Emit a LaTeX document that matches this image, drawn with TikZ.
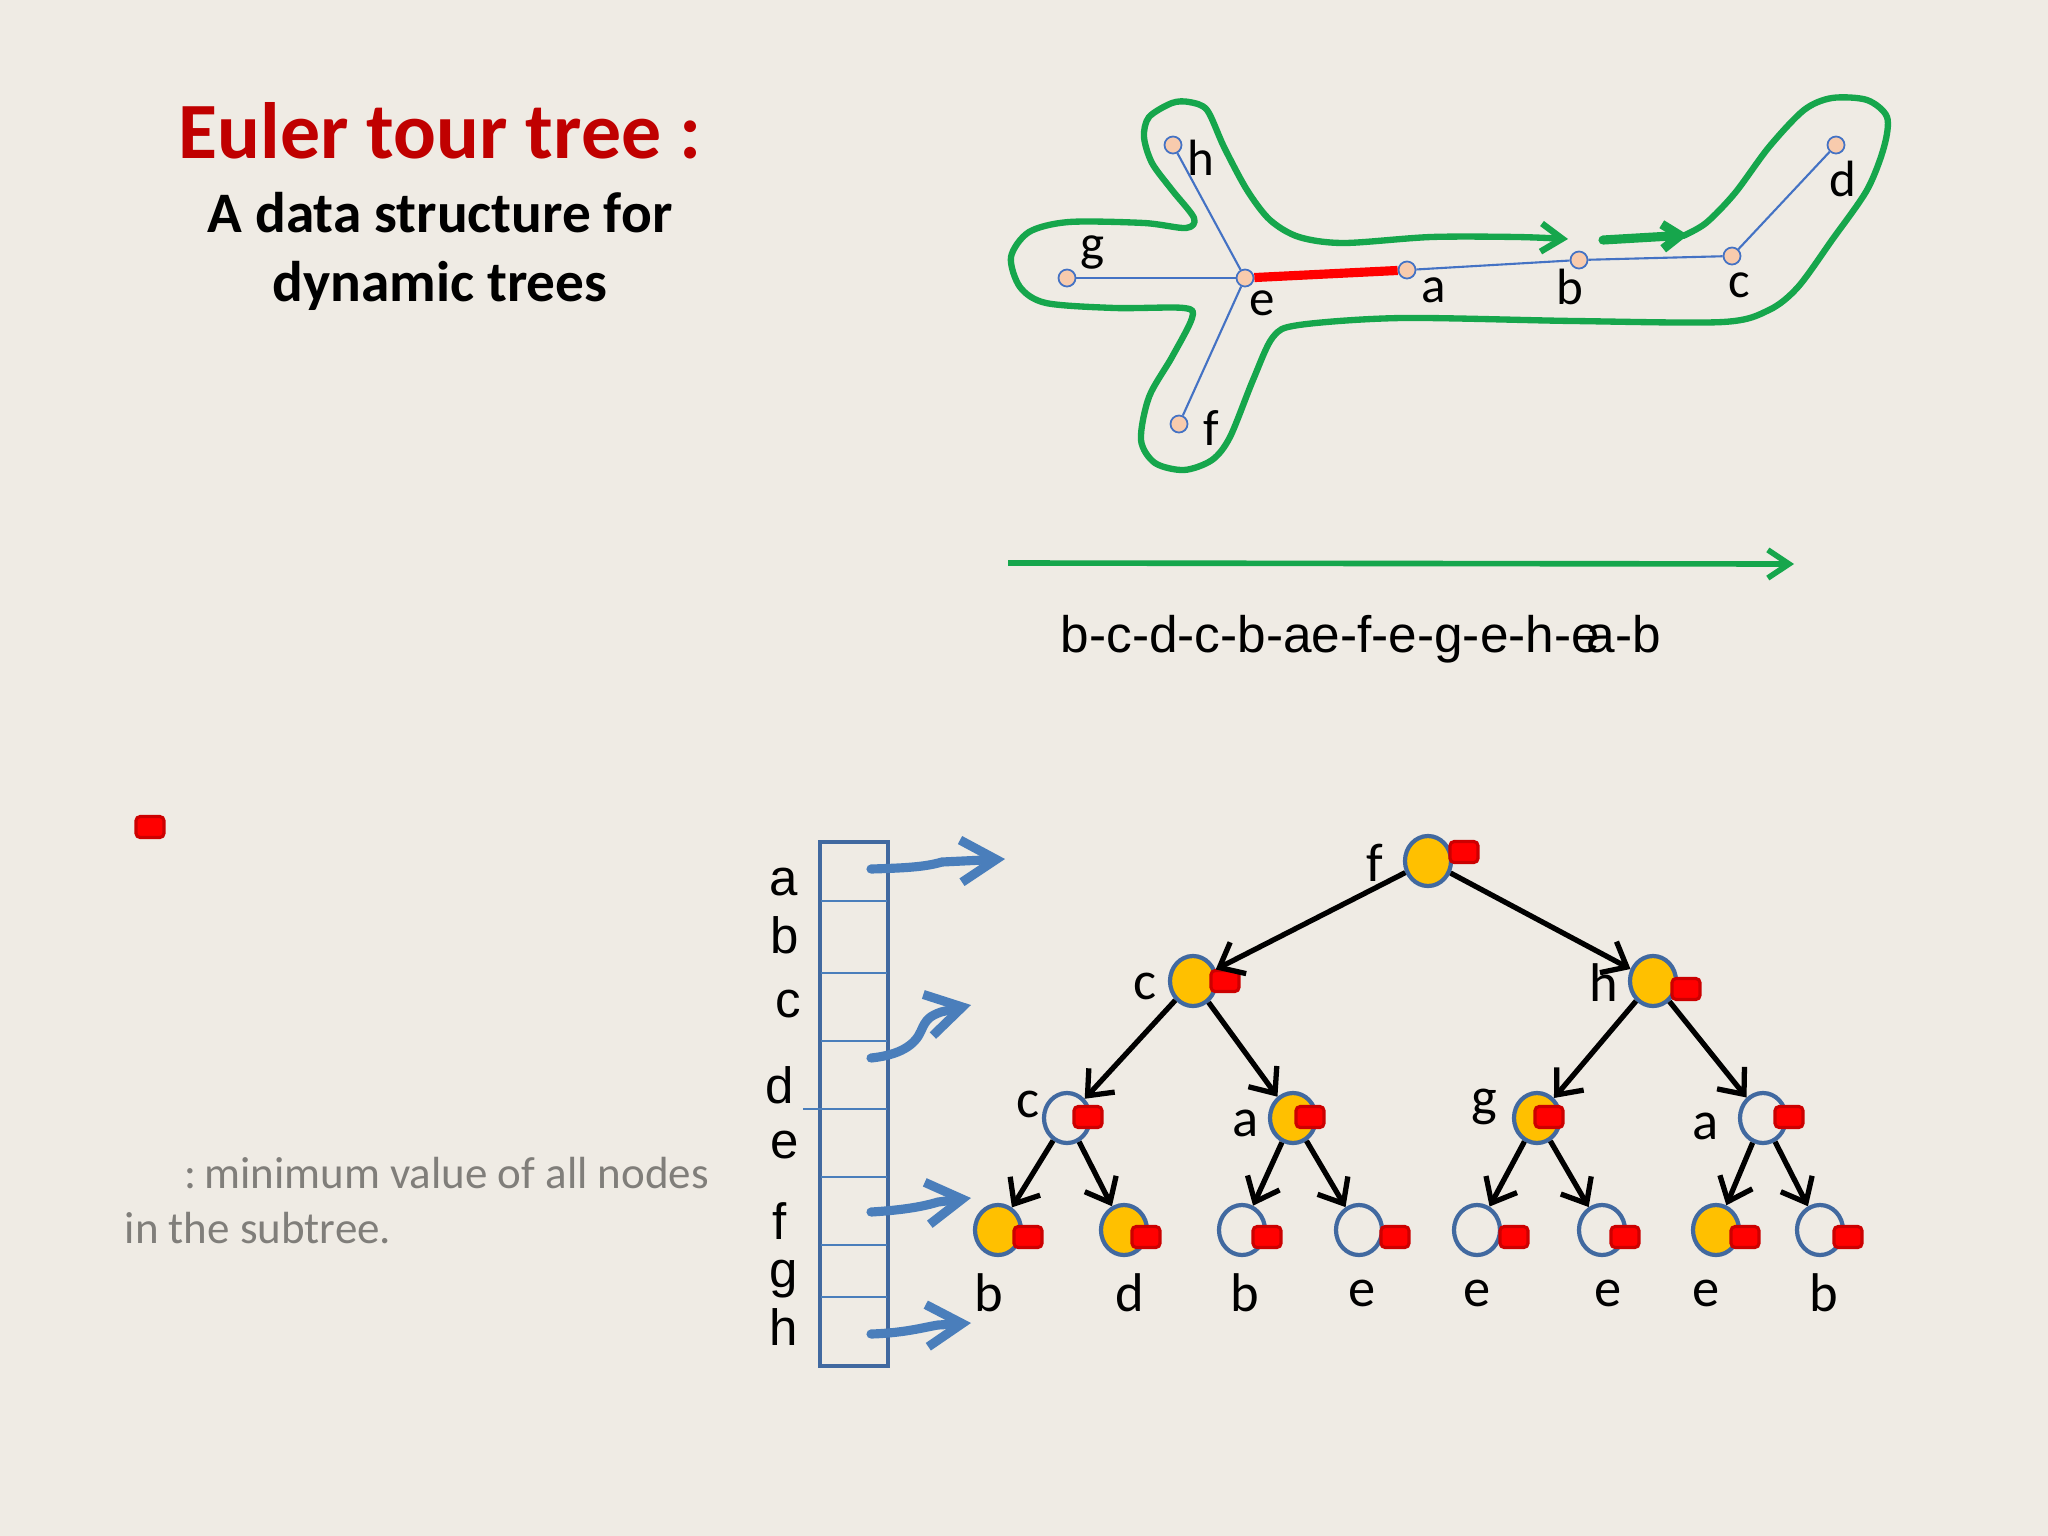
\documentclass[tikz,border=0pt]{standalone}
\usepackage{fontspec}
\setmainfont{Carlito}
\newfontfamily\arialfont{Liberation Sans}
\usetikzlibrary{arrows.meta}
\usetikzlibrary{shapes.geometric}

\definecolor{slidebg}{RGB}{239,235,228}
\definecolor{titlered}{RGB}{192,0,0}
\definecolor{tourgreen}{RGB}{22,166,76}
\definecolor{edgeblue}{RGB}{68,114,196}
\definecolor{peach}{RGB}{248,203,173}
\definecolor{ringblue}{RGB}{65,105,160}
\definecolor{gold}{RGB}{255,192,0}
\definecolor{ptrblue}{RGB}{74,126,187}
\definecolor{boxred}{RGB}{204,0,0}
\definecolor{notegray}{RGB}{128,126,122}

\tikzset{
  gnode/.style={circle,draw=edgeblue,line width=0.5pt,fill=peach,minimum size=0.17cm,inner sep=0pt},
  glabel/.style={font=\fontsize{14.5}{17}\selectfont,inner sep=0pt},
  gedge/.style={draw=edgeblue,line width=0.6pt},
  cutedge/.style={draw=red,line width=2.6pt},
  outline/.style={draw=tourgreen,line width=1.8pt,line join=round,line cap=round},
  tnode/.style={ellipse,draw=ringblue,line width=1.2pt,minimum width=0.46cm,minimum height=0.5cm,inner sep=0pt},
  full/.style={tnode,fill=gold},
  hollow/.style={tnode,fill=slidebg},
  minbox/.style={rectangle,rounded corners=1.2pt,draw=boxred,line width=0.9pt,fill=red,minimum width=0.28cm,minimum height=0.21cm,inner sep=0pt},
  tedge/.style={line width=1.5pt,-{Straight Barb[length=6pt,width=10pt]}},
  tlabel/.style={font=\fontsize{15.5}{18}\selectfont,inner sep=0pt},
  ptr/.style={draw=ptrblue,line width=2.6pt,line cap=round,-{Straight Barb[length=10pt,width=12pt]}},
}

\begin{document}
\begin{tikzpicture}[x=0.01cm,y=-0.01cm]
  \fill[slidebg] (0,0) rectangle (2048,1536);
  \useasboundingbox (0,0) rectangle (2048,1536);

  % title
  \node[text=titlered,font=\bfseries\fontsize{22.7}{26}\selectfont,anchor=base,inner sep=0pt] (title) at (440,158) {Euler tour tree :};
  \node[font=\bfseries\fontsize{16.3}{20}\selectfont,anchor=base,inner sep=0pt] (sub1) at (440,232) {A data structure for};
  \node[font=\bfseries\fontsize{16.3}{20}\selectfont,anchor=base,inner sep=0pt] (sub2) at (440,301) {dynamic trees};

  % the tree and its tour
  \draw[outline,-{Straight Barb[length=6pt,width=8pt]}] plot[smooth,tension=0.5] coordinates {
    (1683,236) (1706,223) (1735,193) (1769,147) (1804,110) (1832,98) (1867,100)
    (1887,117) (1884,147) (1867,190) (1832,240) (1798,287) (1769,310) (1723,322)
    (1574,321) (1402,318) (1299,325) (1273,337) (1253,380) (1230,437) (1212,460)
    (1184,470) (1155,463) (1141,440) (1149,397) (1172,357) (1192,318) (1184,308)
    (1115,308) (1046,303) (1020,287) (1011,257) (1029,232) (1069,222) (1144,223)
    (1186,228) (1194,218) (1172,190) (1152,163) (1144,137) (1149,117) (1172,103)
    (1189,102) (1207,110) (1224,147) (1247,190) (1270,220) (1299,237) (1344,243)
    (1431,237) (1517,237) (1568,239)};
  \coordinate (gs) at (1603,240);
  \coordinate (ge) at (1688,235);
  \draw[outline,line width=2.6pt,-{Straight Barb[length=5pt,width=7pt]}] (gs) -- (ge);

  \foreach \n/\x/\y in {h/1173/145,g/1067/278,e/1245/278,a/1407/270,b/1579/260,c/1732/256,d/1836/145,f/1179/424}
    \node[gnode] (v\n) at (\x,\y) {};
  \draw[gedge] (vh) -- (ve);
  \draw[gedge] (vg) -- (ve);
  \draw[gedge] (vf) -- (ve);
  \draw[gedge] (va) -- (vb) -- (vc) -- (vd);
  \draw[cutedge] (ve) -- (va);
  \foreach \n/\x/\y in {h/1201/158,g/1092/253,e/1262/303,a/1434/290,b/1570/287,c/1739/285,d/1843/179,f/1211/428}
    \node[glabel] (l\n) at (\x,\y) {\n};

  % tour as a sequence
  \coordinate (ts) at (1008,563);
  \coordinate (te) at (1794,564);
  \draw[draw=tourgreen,line width=1.6pt,-{Straight Barb[length=6pt,width=8pt]}] (ts) -- (te);
  \node[font=\arialfont\fontsize{14.6}{17}\selectfont,anchor=base west,inner sep=0pt] (seq) at (1060,652)
    {b-c-d-c-b-ae-f-e-g-e-h-e\kern-0.26em a-b};

  % legend
  \node[minbox] (key) at (150,827) {};
  \node[text=notegray,font=\fontsize{12.8}{15}\selectfont,anchor=base west,inner sep=0pt] (note1) at (184,1188) {:\,minimum value of all nodes};
  \node[text=notegray,font=\fontsize{12.8}{15}\selectfont,anchor=base west,inner sep=0pt] (note2) at (124,1243) {in the subtree.};

  % array of vertices
  \draw[draw=ringblue,line width=1.3pt] (820,842) rectangle (888,1366);
  \foreach \y in {901,973,1041,1177,1245,1297}
    \draw[draw=ptrblue,line width=0.7pt] (821,\y) -- (887,\y);
  \draw[draw=ptrblue,line width=0.7pt] (803,1109) -- (887,1109);
  \foreach \n/\x/\y in {a/784/882,b/785/935,c/788/1004,d/780/1085,e/785/1145,f/780/1221,g/784/1279,h/784/1327}
    \node[font=\arialfont\fontsize{14.5}{17}\selectfont,inner sep=0pt] (k\n) at (\x,\y) {\n};

  \coordinate (pa) at (871,869);
  \coordinate (qa) at (1005,859);
  \coordinate (pd) at (871,1058);
  \coordinate (qd) at (971,1005);
  \coordinate (pf) at (871,1212);
  \coordinate (qf) at (971,1198);
  \coordinate (ph) at (871,1334);
  \coordinate (qh) at (971,1323);
  \draw[ptr] (pa) .. controls (905,868) and (925,867) .. (942,862) -- (qa);
  \draw[ptr] (pd) .. controls (900,1055) and (915,1045) .. (921,1031)
    .. controls (926,1019) and (930,1016) .. (941,1012) -- (qd);
  \draw[ptr] (pf) .. controls (905,1210) and (925,1206) .. (938,1202) -- (qf);
  \draw[ptr] (ph) .. controls (905,1333) and (925,1327) .. (938,1325) -- (qh);

  % balanced tree over the tour
  \foreach \n/\x/\y/\s in {tf/1428/861/full,tc/1193/981/full,th/1653/981/full,
      tcc/1067/1118/hollow,tca/1293/1118/full,thg/1537/1118/full,tha/1763/1118/hollow,
      l1/998/1230/full,l2/1124/1230/full,l3/1242/1230/hollow,l4/1359/1230/hollow,
      l5/1477/1230/hollow,l6/1602/1230/hollow,l7/1716/1230/full,l8/1820/1230/hollow}
    \node[\s] (\n) at (\x,\y) {};
  \foreach \n/\x/\y in {tf/1464/852,tc/1225/981,th/1686/989,tcc/1088/1117,tca/1310/1117,
      thg/1549/1117,tha/1789/1117,l1/1028/1237,l2/1146/1237,l3/1267/1237,l4/1395/1237,
      l5/1514/1237,l6/1625/1237,l7/1745/1237,l8/1848/1237}
    \node[minbox] (m\n) at (\x,\y) {};
  \foreach \p/\c in {tf/tc,tf/th,tc/tcc,tc/tca,th/thg,th/tha,tcc/l1,tcc/l2,
      tca/l3,tca/l4,thg/l5,thg/l6,tha/l7,tha/l8}
    \draw[tedge] (\p) -- (\c);
  \foreach \n/\x/\y/\t in {tf/1375/863/f,tc/1145/986/c,th/1604/983/h,tcc/1028/1104/c,
      tca/1246/1123/a,thg/1484/1107/g,tha/1706/1126/a}
    \node[tlabel] (n\n) at (\x,\y) {\t};
  \foreach \n/\x/\t in {l1/989/b,l2/1130/d,l3/1245/b,l4/1362/e,l5/1477/e,l6/1608/e,l7/1706/e,l8/1824/b}
    \node[tlabel] (n\n) at (\x,1293) {\t};
\end{tikzpicture}
\end{document}
